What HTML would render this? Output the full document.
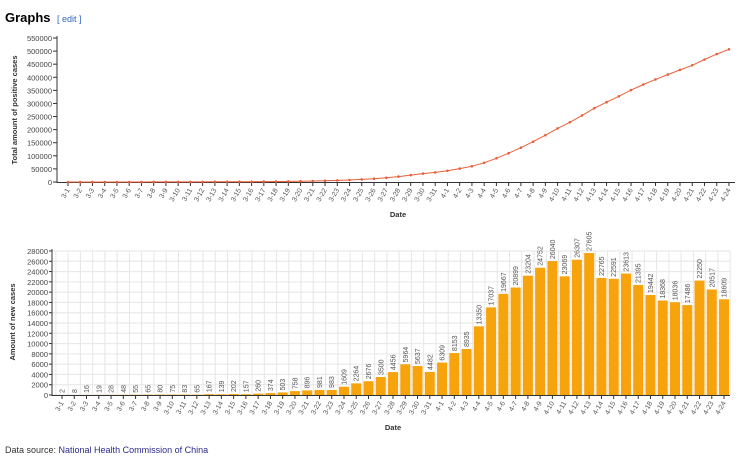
<!DOCTYPE html>
<html><head><meta charset="utf-8"><style>
body{margin:0;background:#fff;font-family:"Liberation Sans",Arial,sans-serif;}
svg{display:block}
</style></head><body>
<svg id="s" width="750" height="457" xmlns="http://www.w3.org/2000/svg" font-family="Liberation Sans, Arial, sans-serif">
<text x="5" y="22" font-size="13" font-weight="bold" fill="#000">Graphs</text>
<text x="57" y="22" font-size="9" fill="#3366bb">[ edit ]</text>
<text x="5" y="453" font-size="9" fill="#333">Data source: <tspan fill="#2a2a8a">National Health Commission of China</tspan></text>
</svg>
<script>
var v=[2,8,16,19,28,48,55,65,80,75,83,65,167,139,202,157,260,374,503,758,896,981,983,1609,2264,2676,3500,4456,5964,5637,4482,6309,8153,8935,13350,17037,19667,20899,23204,24752,26040,23069,26307,27605,22765,22591,23613,21395,19442,18368,18036,17486,22250,20517,18609];
var d=[];for(var i=1;i<=31;i++)d.push("3-"+i);for(i=1;i<=24;i++)d.push("4-"+i);
var s=document.getElementById('s'),h='';
function T(x,y,t,a){return '<text x="'+x+'" y="'+y+'" '+(a||'')+'>'+t+'</text>';}
// top chart
var x0=68,dx=12.24,yb=182,yt=38;
function ty(val){return yb-(val/550000)*(yb-yt);}
h+='<line x1="57" y1="36" x2="57" y2="183" stroke="#333" stroke-width="1"/>';
h+='<line x1="57" y1="182.5" x2="735" y2="182.5" stroke="#333" stroke-width="1"/>';
for(var k=0;k<=11;k++){var y=ty(k*50000);h+='<line x1="53" y1="'+y+'" x2="57" y2="'+y+'" stroke="#333"/>';h+=T(52,y+3,k*50000,'font-size="7.5" fill="#444" text-anchor="end"');}
var c=0,pts=[];
for(i=0;i<55;i++){c+=v[i];var x=x0+i*dx;pts.push(x+','+ty(c).toFixed(1));
h+='<line x1="'+x+'" y1="182" x2="'+x+'" y2="186" stroke="#333"/>';
h+=T(x+2,190,d[i],'font-size="7" fill="#555" text-anchor="end" transform="rotate(-60 '+(x+2)+' 190)"');}
h+='<polyline points="'+pts.join(' ')+'" fill="none" stroke="#e8603a" stroke-width="1"/>';
pts.forEach(function(p){var q=p.split(',');h+='<circle cx="'+q[0]+'" cy="'+q[1]+'" r="1.3" fill="#e8603a"/>';});
h+=T(398,217,'Date','font-size="7.5" font-weight="bold" fill="#333" text-anchor="middle"');
h+=T(17,110,'Total amount of positive cases','font-size="7.5" font-weight="bold" fill="#333" text-anchor="middle" transform="rotate(-90 17 110)"');
// bottom chart
var bx0=62,bdx=12.26,by0=395,byt=251;
function by(val){return by0-(val/28000)*(by0-byt);}
for(k=0;k<=14;k++){var y=by(k*2000);h+='<line x1="52" y1="'+y+'" x2="730" y2="'+y+'" stroke="#e6e6e6"/>';h+='<line x1="49" y1="'+y+'" x2="52" y2="'+y+'" stroke="#333"/>';h+=T(48,y+3,k*2000,'font-size="7.5" fill="#444" text-anchor="end"');}
for(i=0;i<=55;i++){var x=bx0-bdx/2+i*bdx;h+='<line x1="'+x+'" y1="251" x2="'+x+'" y2="395" stroke="#e6e6e6"/>';}
h+='<line x1="52" y1="249" x2="52" y2="396" stroke="#333"/>';
h+='<line x1="52" y1="395.5" x2="730" y2="395.5" stroke="#333"/>';
for(i=0;i<55;i++){var x=bx0+i*bdx,y=by(v[i]);
h+='<rect x="'+(x-5)+'" y="'+y+'" width="10" height="'+(by0-y)+'" fill="#f7a30c"/>';
h+=T(x+2.5,y-2,v[i],'font-size="7" fill="#555" transform="rotate(-90 '+(x+2.5)+' '+(y-2)+')"');
h+='<line x1="'+x+'" y1="395" x2="'+x+'" y2="399" stroke="#333"/>';
h+=T(x+2,403,d[i],'font-size="7" fill="#555" text-anchor="end" transform="rotate(-60 '+(x+2)+' 403)"');}
h+=T(393,430,'Date','font-size="7.5" font-weight="bold" fill="#333" text-anchor="middle"');
h+=T(15,322,'Amount of new cases','font-size="7.5" font-weight="bold" fill="#333" text-anchor="middle" transform="rotate(-90 15 322)"');
s.insertAdjacentHTML('beforeend',h);
</script>
</body></html>
